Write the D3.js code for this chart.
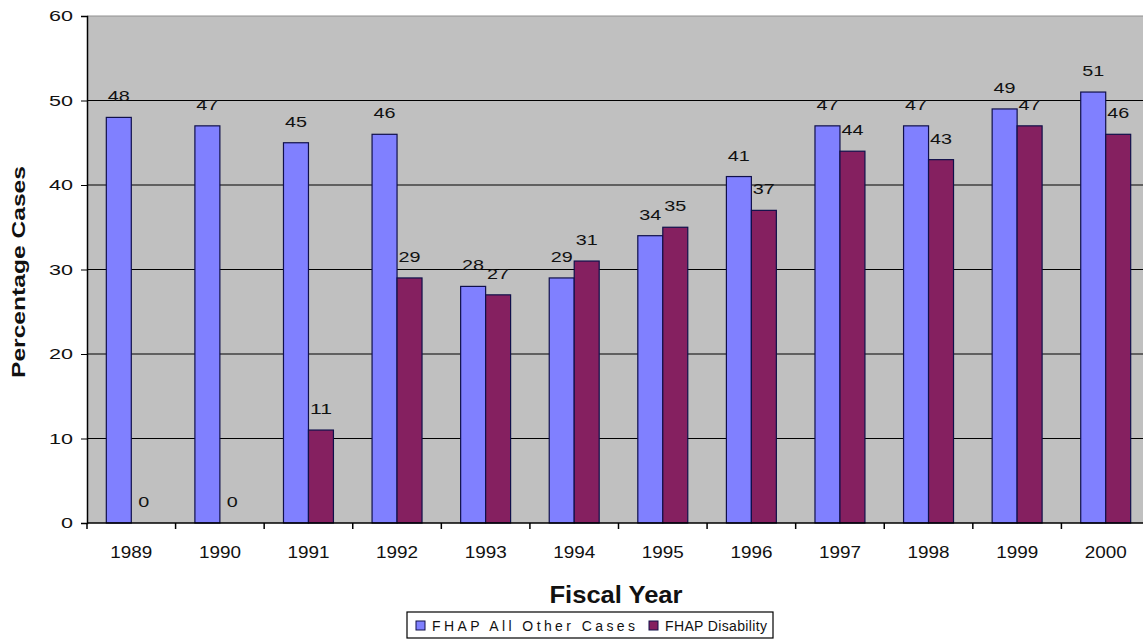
<!DOCTYPE html>
<html><head><meta charset="utf-8">
<script src="https://cdn.jsdelivr.net/npm/d3@7/dist/d3.min.js"></script>
<style>body{margin:0;background:#fff;}svg{display:block;font-family:"Liberation Sans",Arial,sans-serif;}</style>
</head><body>
<svg id="c" width="1143" height="644"></svg>
<script>
const years = ["1989","1990","1991","1992","1993","1994","1995","1996","1997","1998","1999","2000"];
const seriesNames = ["FHAP All Other Cases","FHAP Disability"];
const otherCases = [48,47,45,46,28,29,34,41,47,47,49,51];
const disability = [0,0,11,29,27,31,35,37,44,43,47,46];
const yTicks = [0,10,20,30,40,50,60];
const colors = ["#8080ff","#852060"];

const svg = d3.select("#c");
const L = 87, R = 1150, T = 16, B = 523;
const x0 = d3.scaleBand().domain(years).range([L, R]).paddingInner(0.436).paddingOuter(0.218);
const x1 = d3.scaleBand().domain(seriesNames).range([0, x0.bandwidth()]);
const y = d3.scaleLinear().domain([0, 60]).range([B, T]);

function stretch(sel, perChar) {
  sel.each(function() {
    const t = d3.select(this);
    const n = t.text().length;
    t.attr("textLength", n * perChar).attr("lengthAdjust", "spacingAndGlyphs");
  });
}

svg.append("rect").attr("x", L).attr("y", T).attr("width", R - L).attr("height", B - T).attr("fill", "#c0c0c0");
svg.append("line").attr("x1", L).attr("x2", R).attr("y1", T).attr("y2", T).attr("stroke", "#909090");

svg.append("g").selectAll("line").data(yTicks.filter(d => d > 0 && d < 60)).join("line")
  .attr("x1", L).attr("x2", R).attr("y1", d => y(d)).attr("y2", d => y(d))
  .attr("stroke", "#000").attr("stroke-width", 1.2);

const data = years.map((yr, i) => ({yr, vals: [otherCases[i], disability[i]]}));
const g = svg.append("g");
data.forEach(d => {
  d.vals.forEach((v, j) => {
    const bx = x0(d.yr) + x1(seriesNames[j]);
    if (v > 0) {
      g.append("rect").attr("x", bx).attr("y", y(v)).attr("width", x1.bandwidth()).attr("height", y(0) - y(v))
        .attr("fill", colors[j]).attr("stroke", "#10104a").attr("stroke-width", 1.2);
    }
    g.append("text").attr("x", bx + x1.bandwidth() / 2).attr("y", y(v) - 16)
      .attr("text-anchor", "middle").attr("font-size", 15).attr("fill", "#111").text(v)
      .call(stretch, 11);
  });
});

const yAxis = d3.axisLeft(y).tickValues(yTicks).tickSize(6).tickPadding(8);
const ya = svg.append("g").attr("transform", `translate(${L},0)`).call(yAxis);
ya.select(".domain").attr("stroke", "#000").attr("stroke-width", 1.5);
ya.selectAll("text").attr("font-size", 15).attr("fill", "#111").attr("font-family", "Liberation Sans, Arial, sans-serif")
  .call(stretch, 12);

const xa = svg.append("g").attr("transform", `translate(0,${B})`);
xa.append("line").attr("x1", L).attr("x2", R).attr("stroke", "#000").attr("stroke-width", 1.5);
const bounds = years.map(yr => x0(yr) - x0.step() * 0.436 / 2).concat([R]);
xa.selectAll("line.tk").data(bounds).join("line").attr("class", "tk")
  .attr("x1", d => d).attr("x2", d => d).attr("y1", 0).attr("y2", 6).attr("stroke", "#000").attr("stroke-width", 1.5);
xa.selectAll("text").data(years).join("text")
  .attr("x", d => x0(d) + x0.bandwidth() / 2).attr("y", 35).attr("text-anchor", "middle")
  .attr("font-size", 16).attr("fill", "#111").text(d => d)
  .call(stretch, 10.5);

svg.append("text").attr("transform", "translate(25,272) rotate(-90)").attr("text-anchor", "middle")
  .attr("font-size", 19).attr("font-weight", "bold").attr("fill", "#111").text("Percentage Cases")
  .attr("textLength", 212).attr("lengthAdjust", "spacingAndGlyphs");
svg.append("text").attr("x", 616).attr("y", 603).attr("text-anchor", "middle")
  .attr("font-size", 24).attr("font-weight", "bold").attr("fill", "#111").text("Fiscal Year")
  .attr("textLength", 133).attr("lengthAdjust", "spacingAndGlyphs");

const lg = svg.append("g");
lg.append("rect").attr("x", 407).attr("y", 612).attr("width", 366).attr("height", 26)
  .attr("fill", "#fff").attr("stroke", "#000").attr("stroke-width", 1.2);
const lx = [416, 649];
const lw = [203, 102];
seriesNames.forEach((s, j) => {
  lg.append("rect").attr("x", lx[j]).attr("y", 621).attr("width", 9).attr("height", 9)
    .attr("fill", colors[j]).attr("stroke", "#10104a").attr("stroke-width", 1);
  lg.append("text").attr("x", lx[j] + 16).attr("y", 631).attr("font-size", 14).attr("fill", "#111")
    .attr("textLength", lw[j]).attr("lengthAdjust", "spacing").text(s);
});
</script>
</body></html>
